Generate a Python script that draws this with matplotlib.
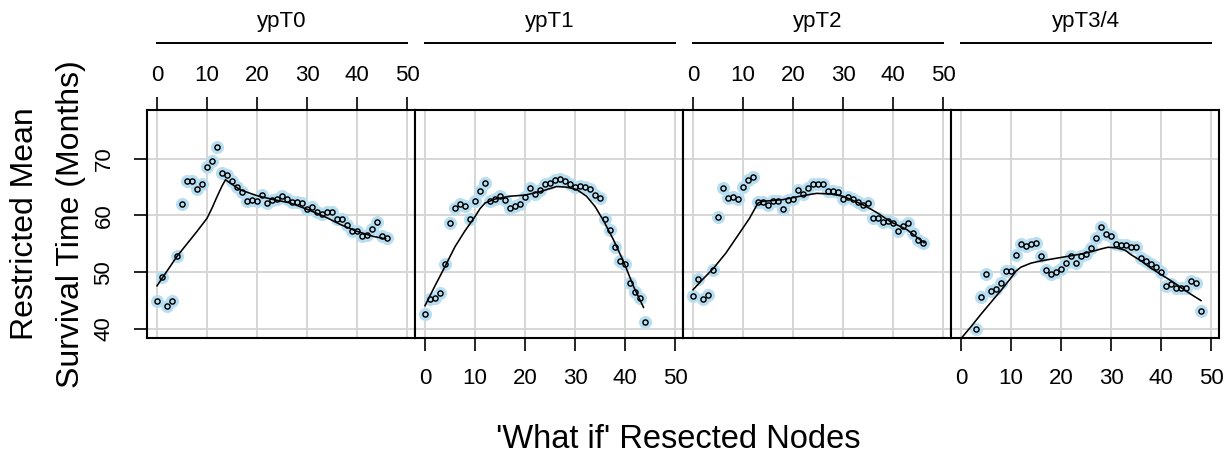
import numpy as np
import matplotlib
matplotlib.use('Agg')
import matplotlib.pyplot as plt
import matplotlib.transforms as mtransforms

plt.rcParams['font.family'] = ['Liberation Sans', 'DejaVu Sans']

### Data

panel_names = ['ypT0', 'ypT1', 'ypT2', 'ypT3/4']

# observed restricted mean survival (months) per number of resected nodes
x_t0 = list(range(0, 47))
y_t0 = [44.9, 49.1, 44.1, 44.9, 52.8, 62.0, 66.0, 66.0, 64.6, 65.5,
        68.5, 69.6, 72.0, 67.5, 67.1, 66.0, 65.1, 64.2, 62.6, 62.8,
        62.6, 63.6, 62.2, 62.8, 62.9, 63.4, 62.9, 62.4, 62.4, 62.2,
        61.1, 61.5, 60.7, 60.3, 60.7, 60.7, 59.4, 59.4, 58.4, 57.3,
        57.2, 56.3, 56.6, 57.6, 58.8, 56.3, 56.1]

x_t1 = list(range(0, 45))
y_t1 = [42.6, 45.3, 45.4, 46.3, 51.4, 58.6, 61.3, 62.0, 61.6, 59.4,
        62.5, 64.4, 65.8, 62.6, 62.9, 63.5, 62.8, 61.4, 61.6, 62.1,
        63.2, 64.8, 63.8, 64.5, 65.5, 65.7, 66.3, 66.5, 66.0, 65.5,
        65.1, 65.2, 65.1, 64.6, 63.6, 63.1, 59.4, 57.4, 54.5, 51.9,
        51.5, 48.1, 46.5, 45.4, 41.3]

x_t2 = list(range(0, 47))
y_t2 = [45.8, 48.8, 45.2, 46.0, 50.4, 59.8, 64.8, 63.1, 63.2, 62.9,
        65.0, 66.2, 66.8, 62.4, 62.4, 61.9, 62.5, 62.5, 61.2, 62.8,
        62.9, 64.5, 63.8, 64.9, 65.5, 65.5, 65.5, 64.4, 64.4, 64.2,
        62.9, 63.2, 62.9, 62.4, 61.9, 62.2, 59.6, 59.5, 58.9, 59.1,
        58.6, 57.2, 58.1, 58.6, 56.9, 55.7, 55.1]

x_t34 = list(range(3, 49))
y_t34 = [39.9, 45.7, 49.7, 46.6, 47.0, 48.1, 50.2, 50.2, 53.1, 55.0,
         54.7, 55.0, 55.2, 52.9, 50.4, 49.7, 50.1, 50.6, 51.7, 52.9,
         51.6, 52.8, 53.2, 54.2, 56.0, 57.9, 56.7, 56.3, 54.9, 54.8,
         54.8, 54.4, 54.4, 52.5, 51.9, 51.5, 51.0, 50.1, 47.6, 47.9,
         47.2, 47.2, 47.3, 48.5, 48.1, 43.2]

# fitted curves
fx_t0 = [0, 2, 4, 6, 8, 10, 11, 12, 13, 13.7, 15, 16.7, 20, 23.3, 26.7,
         30, 33.3, 36.7, 40, 43.3, 45.7]
fy_t0 = [47.6, 50.2, 52.8, 55.0, 57.2, 59.5, 61.3, 63.3, 65.2, 66.3, 65.5,
         64.5, 63.5, 62.8, 62.2, 61.1, 59.9, 58.4, 57.2, 56.3, 55.9]

fx_t1 = [0, 2, 4, 6, 8, 10, 11, 12, 14, 17, 20, 23, 26.3, 28.3, 30.3,
         32.3, 34, 35.7, 37.7, 39.7, 41.7, 43.7]
fy_t1 = [44.1, 47.6, 51.0, 54.5, 57.3, 59.8, 61.2, 62.2, 62.9, 63.4, 63.6,
         64.2, 65.1, 65.0, 64.6, 63.4, 61.6, 59.1, 55.7, 51.9, 47.5, 43.8]

fx_t2 = [0, 2, 4.1, 6.6, 9.3, 11.3, 13, 14, 18, 22, 24.7, 27.4, 30, 34,
         36.8, 39.5, 42.8, 46.2]
fy_t2 = [46.9, 48.8, 50.7, 53.4, 56.9, 59.5, 62.2, 62.5, 62.8, 63.5, 63.9,
         63.8, 63.4, 61.9, 60.5, 58.9, 57.5, 55.2]

fx_t34 = [0, 2, 4, 6, 8, 10, 11, 12, 14, 16, 18, 20, 22, 24, 26, 28, 29.4,
          31, 32.8, 34, 36, 38, 40, 42, 44, 46, 48]
fy_t34 = [38.3, 40.4, 42.6, 44.7, 46.8, 49.0, 50.2, 50.9, 51.6, 52.0, 52.3,
          52.6, 52.9, 53.2, 53.6, 54.1, 54.4, 54.3, 53.9, 53.1, 52.0, 50.7,
          49.6, 48.5, 47.3, 46.1, 45.0]

obs_x = [x_t0, x_t1, x_t2, x_t34]
obs_y = [y_t0, y_t1, y_t2, y_t34]
fit_x = [fx_t0, fx_t1, fx_t2, fx_t34]
fit_y = [fy_t0, fy_t1, fy_t2, fy_t34]

x_ticks = [0, 10, 20, 30, 40, 50]
y_ticks = [40, 50, 60, 70]

### Layout (pixel based, figure is 1224 x 455)
W, H = 1224, 455
fig = plt.figure(figsize=(W / 100, H / 100), dpi=100)

p_left, p_w = 147, 268
p_top, p_bot = 110, 338

halo_col = '#b8def2'
grid_col = '#d6d6d6'
tick_fs = 16

for i in range(4):
    ax = fig.add_axes([(p_left + p_w * i) / W, 1 - p_bot / H,
                       p_w / W, (p_bot - p_top) / H])
    ax.set_xlim(-2, 51.6)
    ax.set_ylim(38.4, 78.6)

    # grid
    for gx in x_ticks:
        ax.axvline(gx, color=grid_col, lw=1.4, zorder=0)
    for gy in y_ticks:
        ax.axhline(gy, color=grid_col, lw=1.4, zorder=0)

    # halo, fitted line, open points
    ax.plot(obs_x[i], obs_y[i], 'o', ms=9.4, color=halo_col, mec='none', zorder=1)
    ax.plot(fit_x[i], fit_y[i], '-', color='black', lw=1.15, zorder=2)
    ax.plot(obs_x[i], obs_y[i], 'o', ms=3.7, mfc='none', mec='black', mew=1.05,
            zorder=3)

    for sp in ax.spines.values():
        sp.set_linewidth(1.5)

    ax.set_xticks(x_ticks)
    ax.set_yticks(y_ticks)
    ax.tick_params(axis='both', length=9.4, width=1.2, labelsize=tick_fs,
                   direction='out')
    if i % 2 == 0:
        ax.xaxis.set_ticks_position('top')
        ax.tick_params(axis='x', pad=8)
    else:
        ax.xaxis.set_ticks_position('bottom')
        ax.tick_params(axis='x', pad=12)
    if i == 0:
        ax.set_yticklabels([str(v) for v in y_ticks], rotation=90, va='center')
        ax.tick_params(axis='y', pad=14)
    else:
        ax.tick_params(axis='y', left=False, labelleft=False)

    # strip: line over the data range plus panel name
    trans = mtransforms.blended_transform_factory(ax.transData, fig.transFigure)
    ax.plot([0, 50], [1 - 43 / H, 1 - 43 / H], color='black', lw=1.4,
            transform=trans, clip_on=False)
    ax.text(25, 1 - 22 / H, panel_names[i], transform=trans, ha='center',
            va='center', fontsize=tick_fs)

fig.text(48 / W, 1 - 224 / H, 'Restricted Mean\nSurvival Time (Months)',
         rotation=90, ha='center', va='center', fontsize=23,
         multialignment='center', linespacing=1.7)
fig.text(678 / W, 1 - 440 / H, "'What if' Resected Nodes", ha='center',
         va='center', fontsize=23.5)

fig.savefig('out.png', dpi=100)
